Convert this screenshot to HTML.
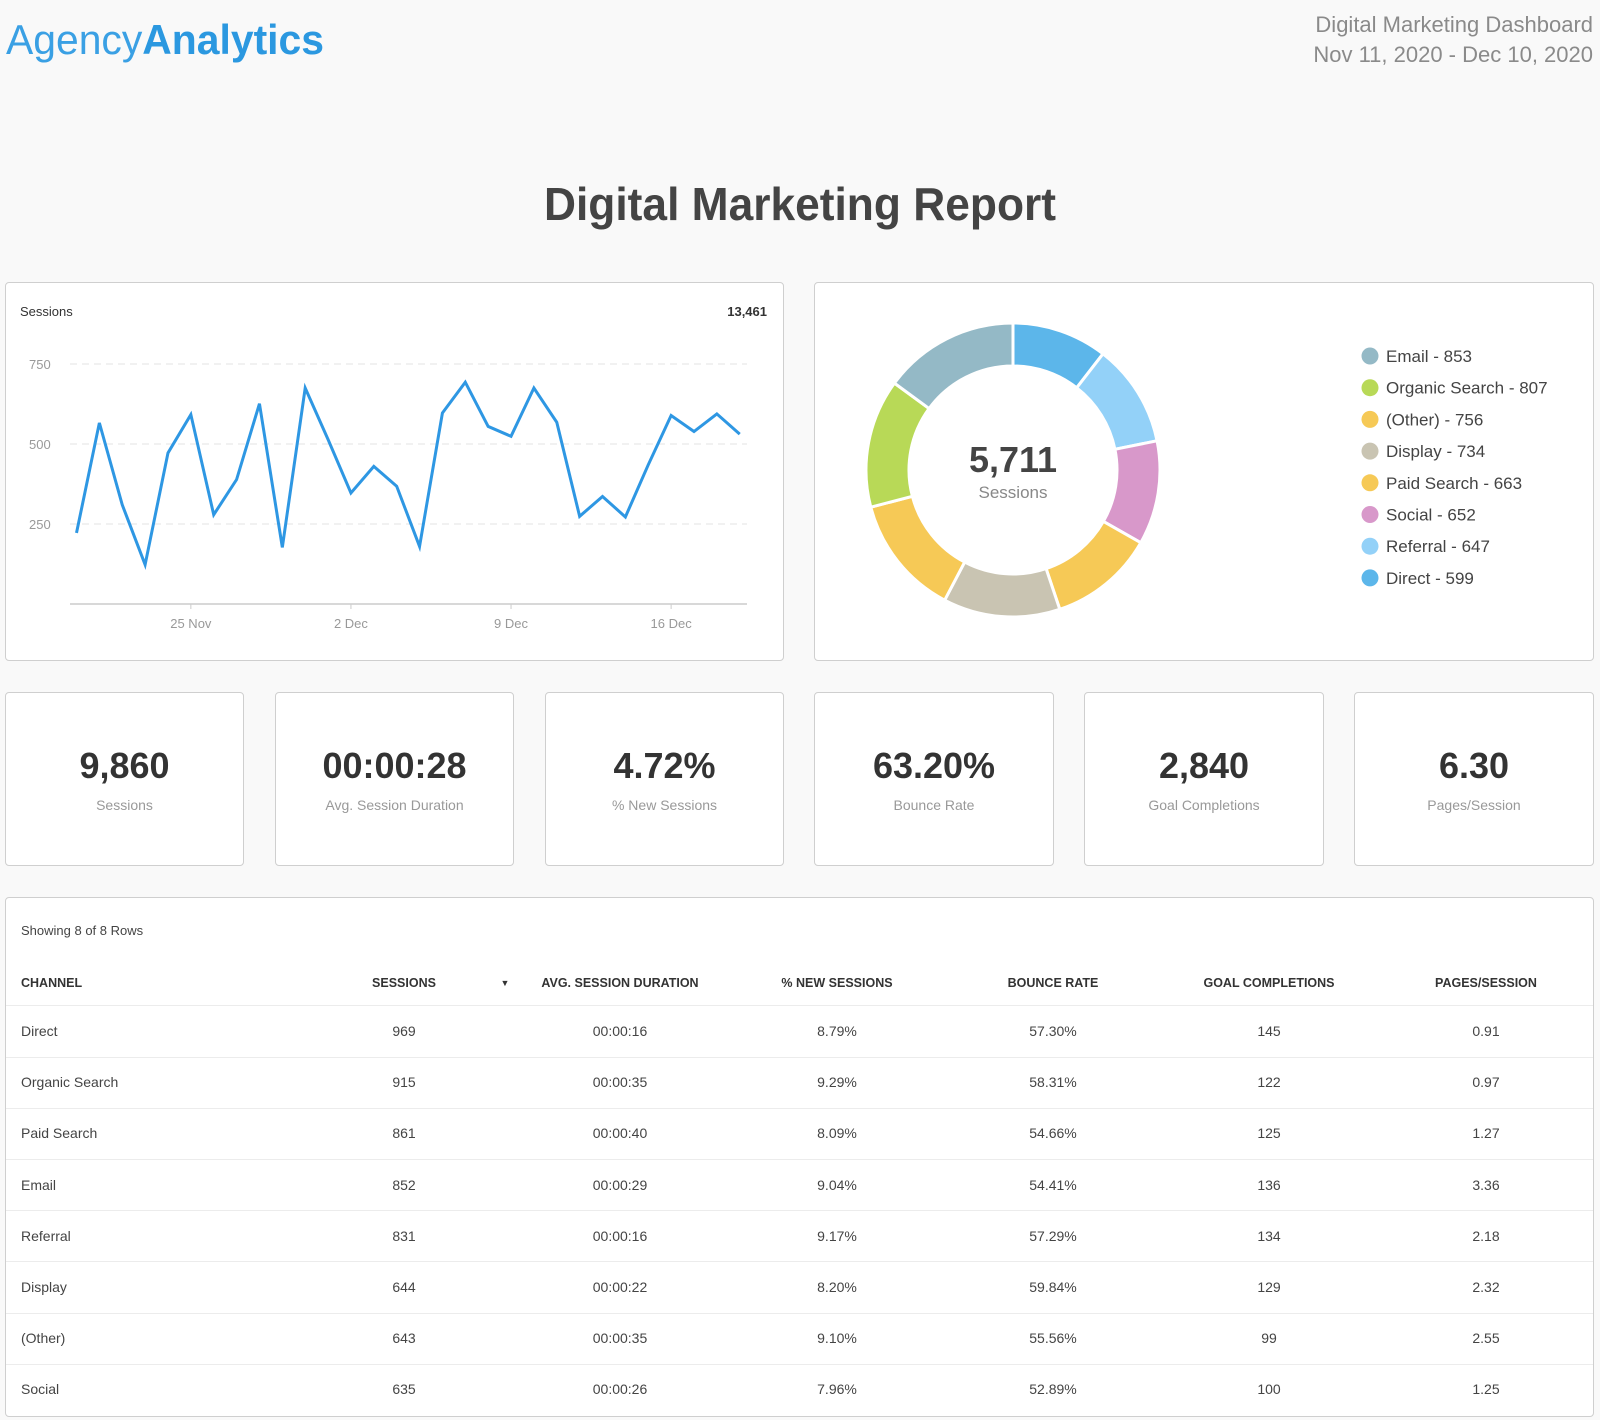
<!DOCTYPE html>
<html><head><meta charset="utf-8">
<style>
*{box-sizing:border-box;margin:0;padding:0}
body{width:1600px;height:1420px;background:#f9f9f9;font-family:"Liberation Sans",sans-serif;position:relative;overflow:hidden;color:#333}
.card{position:absolute;background:#fff;border:1.5px solid #cfcfcf;border-radius:4px}
.kpi .num{position:absolute;left:0;right:0;top:52px;text-align:center;font-weight:bold;font-size:36px;color:#333}
.kpi .lbl{position:absolute;left:0;right:0;top:104px;text-align:center;font-size:14px;color:#999}
.cell{position:absolute;white-space:nowrap;transform:translate(-50%,-50%);font-size:14px;color:#444}
.cell.left{transform:translate(0,-50%)}
.hd{font-size:12.5px;font-weight:bold;color:#333}
.rowline{position:absolute;left:0;right:0;height:1px;background:#ececec}
</style></head><body>
<svg style="position:absolute;left:0;top:0" width="1600" height="260">
<text x="6" y="54" font-size="42" textLength="318" lengthAdjust="spacingAndGlyphs" font-family="Liberation Sans, sans-serif"><tspan fill="#3aa0e4" font-weight="300">Agency</tspan><tspan fill="#2b98e0" font-weight="bold">Analytics</tspan></text>
<text x="1593" y="32" text-anchor="end" font-size="22" fill="#8a8a8a">Digital Marketing Dashboard</text>
<text x="1593" y="62" text-anchor="end" font-size="22" fill="#8a8a8a">Nov 11, 2020 - Dec 10, 2020</text>
<text x="544" y="220" font-size="46" font-weight="bold" fill="#444" textLength="512" lengthAdjust="spacingAndGlyphs">Digital Marketing Report</text>
</svg>

<div class="card" style="left:5px;top:282px;width:779px;height:379px"></div>
<svg id="line" style="position:absolute;left:0;top:0" width="800" height="670"></svg>

<div class="card" style="left:814px;top:282px;width:780px;height:379px"></div>
<svg id="donut" style="position:absolute;left:800px;top:0" width="800" height="670"></svg>

<div class="card kpi" style="left:5px;top:692px;width:239px;height:174px"><div class="num">9,860</div><div class="lbl">Sessions</div></div>
<div class="card kpi" style="left:275px;top:692px;width:239px;height:174px"><div class="num">00:00:28</div><div class="lbl">Avg. Session Duration</div></div>
<div class="card kpi" style="left:545px;top:692px;width:239px;height:174px"><div class="num">4.72%</div><div class="lbl">% New Sessions</div></div>
<div class="card kpi" style="left:814px;top:692px;width:240px;height:174px"><div class="num">63.20%</div><div class="lbl">Bounce Rate</div></div>
<div class="card kpi" style="left:1084px;top:692px;width:240px;height:174px"><div class="num">2,840</div><div class="lbl">Goal Completions</div></div>
<div class="card kpi" style="left:1354px;top:692px;width:240px;height:174px"><div class="num">6.30</div><div class="lbl">Pages/Session</div></div>

<div class="card" id="tbl" style="left:5px;top:897px;width:1589px;height:520px;overflow:hidden">
<div style="position:absolute;left:15px;top:25px;font-size:13px;color:#444">Showing 8 of 8 Rows</div>
</div>

<script>
const sessionValues=[222,566,310,123,472,592,279,389,626,177,675,514,347,430,368,180,597,693,555,524,675,568,274,336,272,435,589,539,594,531];
const yTicks=[250,500,750];
const xTickLabels=["25 Nov","2 Dec","9 Dec","16 Dec"];
const xTickIndex=[5,12,19,26];
const donutLabels=["Direct","Referral","Social","Paid Search","Display","(Other)","Organic Search","Email"];
const donutValues=[599,647,652,663,734,756,807,853];
const donutColors=["#5cb6ea","#93d1f8","#d898ca","#f6c956","#c9c4b2","#f6c956","#b8d957","#94b9c6"];
const legendOrder=[7,6,5,4,3,2,1,0];
const tableHeaders=["CHANNEL","SESSIONS","AVG. SESSION DURATION","% NEW SESSIONS","BOUNCE RATE","GOAL COMPLETIONS","PAGES/SESSION"];
const tableRows=[
["Direct","969","00:00:16","8.79%","57.30%","145","0.91"],
["Organic Search","915","00:00:35","9.29%","58.31%","122","0.97"],
["Paid Search","861","00:00:40","8.09%","54.66%","125","1.27"],
["Email","852","00:00:29","9.04%","54.41%","136","3.36"],
["Referral","831","00:00:16","9.17%","57.29%","134","2.18"],
["Display","644","00:00:22","8.20%","59.84%","129","2.32"],
["(Other)","643","00:00:35","9.10%","55.56%","99","2.55"],
["Social","635","00:00:26","7.96%","52.89%","100","1.25"]];

const NS="http://www.w3.org/2000/svg";
function mk(parent,tag,attrs,text){const e=document.createElementNS(NS,tag);for(const k in attrs)e.setAttribute(k,attrs[k]);if(text!==undefined)e.textContent=text;parent.appendChild(e);return e;}

// line chart
const L=document.getElementById('line');
const x0=76.5,dx=22.87,base=604,pxPer=0.32;
const xs=i=>x0+i*dx, ys=v=>base-v*pxPer;
let t=mk(L,'text',{x:20,y:316,'font-size':13,fill:'#333'},'Sessions');


t=mk(L,'text',{x:767,y:316,'font-size':13,'font-weight':'bold','text-anchor':'end',fill:'#333'},'13,461');


yTicks.forEach(v=>{
  const g=mk(L,'line',{x1:70,x2:747,y1:ys(v),y2:ys(v),stroke:'#e3e3e3','stroke-dasharray':'7,5','stroke-width':1});
  
  
  const l=mk(L,'text',{x:29,y:ys(v)+5,'font-size':13,fill:'#999'},v);
  
  
});
const ax=mk(L,'line',{x1:70,x2:747,y1:base,y2:base,stroke:'#ccc','stroke-width':1.5});


xTickLabels.forEach((lab,k)=>{
  const x=xs(xTickIndex[k]);
  const tk=mk(L,'line',{x1:x,x2:x,y1:base,y2:base+5,stroke:'#ccc'});
  
  
  const tl=mk(L,'text',{x:x,y:base+24,'font-size':13,fill:'#999','text-anchor':'middle'},lab);
  
  
});
const pl=mk(L,'polyline',{points:sessionValues.map((v,i)=>xs(i)+','+ys(v)).join(' '),fill:'none',stroke:'#2e97e3','stroke-width':3,'stroke-linejoin':'miter'});



// donut
const D=document.getElementById('donut');
const cx=213,cy=470,R=147,r=104;
const total=donutValues.reduce((a,b)=>a+b,0);
let a0=-Math.PI/2;
donutValues.forEach((v,i)=>{
  const a1=a0+v/total*2*Math.PI;
  const p=(a,rad)=>(cx+rad*Math.cos(a)).toFixed(2)+','+(cy+rad*Math.sin(a)).toFixed(2);
  const large=(a1-a0)>Math.PI?1:0;
  const d=`M${p(a0,R)} A${R},${R} 0 ${large} 1 ${p(a1,R)} L${p(a1,r)} A${r},${r} 0 ${large} 0 ${p(a0,r)} Z`;
  const s=mk(D,'path',{d:d,fill:donutColors[i],stroke:'#fff','stroke-width':3});
  
  
  a0=a1;
});
t=mk(D,'text',{x:cx,y:cy+2,'font-size':36,'font-weight':'bold','text-anchor':'middle',fill:'#444'},total.toLocaleString('en-US'));


t=mk(D,'text',{x:cx,y:cy+28,'font-size':17,'text-anchor':'middle',fill:'#888'},'Sessions');


legendOrder.forEach((idx,k)=>{
  const y=356+k*31.7;
  const c=mk(D,'circle',{cx:570,cy:y,r:8.5,fill:donutColors[idx]});
  
  
  const lt=mk(D,'text',{x:586,y:y+6,'font-size':17,fill:'#444'},donutLabels[idx]+' - '+donutValues[idx]);
  
  
});

// table
const T=document.getElementById('tbl');
const colX=[15,398,614,831,1047,1263,1480];
const headY=85,row0=133,rowH=51.2;
function cell(txt,x,y,cls){const d=document.createElement('div');d.className='cell '+cls;d.style.left=x+'px';d.style.top=y+'px';d.textContent=txt;T.appendChild(d);return d;}
tableHeaders.forEach((h,c)=>{
  const d=cell(h,colX[c],headY,'hd'+(c===0?' left':''));
  
  
});
const arrow=cell('\u25BC',499,headY,'hd');
arrow.style.fontSize='9px';


for(let i=0;i<=tableRows.length;i++){
  const ln=document.createElement('div');ln.className='rowline';ln.style.top=(row0-rowH/2+i*rowH)+'px';
  
  
  if(i<tableRows.length)T.appendChild(ln);
  else if(false)T.appendChild(ln);
}
tableRows.forEach((r,i)=>{
  r.forEach((v,c)=>{
    const d=cell(v,colX[c],row0+i*rowH,c===0?'left':'');
    
    
  });
});
</script>
</body></html>
